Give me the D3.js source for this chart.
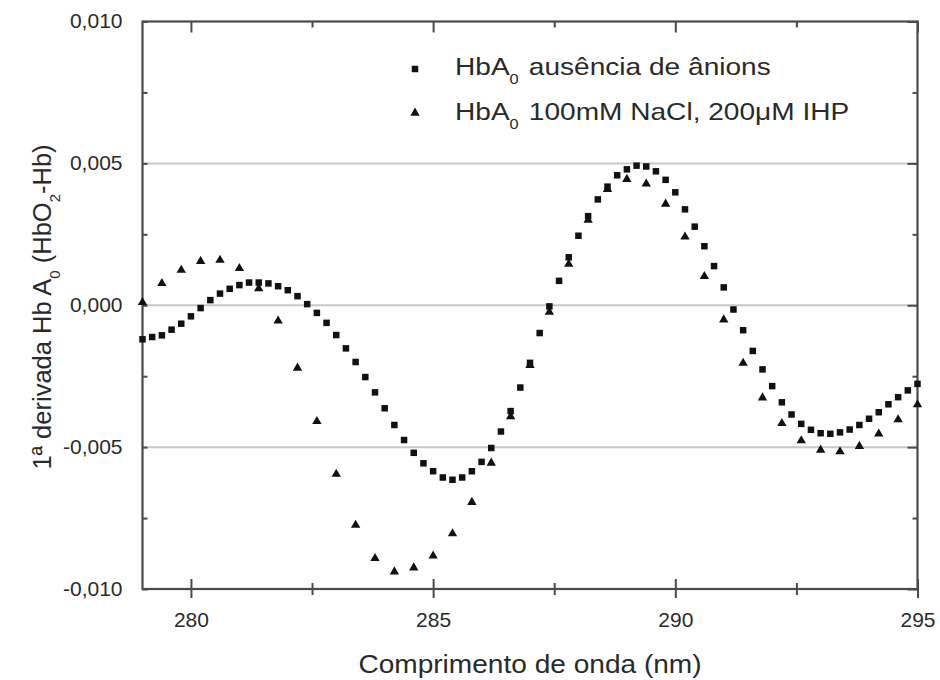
<!DOCTYPE html>
<html>
<head>
<meta charset="utf-8">
<script src="https://cdn.jsdelivr.net/npm/d3@7"></script>
<style>
  html, body { margin: 0; padding: 0; background: #fff; }
  svg { display: block; }
  text { font-family: "Liberation Sans", Arial, sans-serif; fill: #2a2a2a; }
</style>
</head>
<body>
<svg id="chart" width="940" height="680"></svg>
<script>
// Wavelengths (nm) sampled for HbA0 without anions (every 0.2 nm)
const wavelengthNoAnions = [
  279.0, 279.2, 279.4, 279.6, 279.8, 280.0, 280.2, 280.4, 280.6, 280.8,
  281.0, 281.2, 281.4, 281.6, 281.8, 282.0, 282.2, 282.4, 282.6, 282.8,
  283.0, 283.2, 283.4, 283.6, 283.8, 284.0, 284.2, 284.4, 284.6, 284.8,
  285.0, 285.2, 285.4, 285.6, 285.8, 286.0, 286.2, 286.4, 286.6, 286.8,
  287.0, 287.2, 287.4, 287.6, 287.8, 288.0, 288.2, 288.4, 288.6, 288.8,
  289.0, 289.2, 289.4, 289.6, 289.8, 290.0, 290.2, 290.4, 290.6, 290.8,
  291.0, 291.2, 291.4, 291.6, 291.8, 292.0, 292.2, 292.4, 292.6, 292.8,
  293.0, 293.2, 293.4, 293.6, 293.8, 294.0, 294.2, 294.4, 294.6, 294.8,
  295.0
];
// First derivative, HbA0 without anions
const derivNoAnions = [
  -0.00120, -0.00112, -0.00106, -0.00086, -0.00065, -0.00039, -0.00010, 0.00018, 0.00041, 0.00058,
  0.00071, 0.00080, 0.00080, 0.00077, 0.00067, 0.00053, 0.00032, 0.00004, -0.00027, -0.00062,
  -0.00105, -0.00152, -0.00200, -0.00253, -0.00307, -0.00363, -0.00422, -0.00475, -0.00520, -0.00557,
  -0.00585, -0.00607, -0.00615, -0.00607, -0.00585, -0.00552, -0.00503, -0.00445, -0.00373, -0.00290,
  -0.00203, -0.00098, -0.00004, 0.00086, 0.00169, 0.00245, 0.00314, 0.00373, 0.00418, 0.00458,
  0.00479, 0.00492, 0.00489, 0.00472, 0.00442, 0.00398, 0.00338, 0.00277, 0.00208, 0.00138,
  0.00063, -0.00015, -0.00088, -0.00161, -0.00226, -0.00285, -0.00342, -0.00385, -0.00418, -0.00439,
  -0.00451, -0.00453, -0.00448, -0.00438, -0.00422, -0.00400, -0.00377, -0.00349, -0.00324, -0.00300,
  -0.00277
];

// Wavelengths (nm) sampled for HbA0 with 100 mM NaCl + 200 uM IHP (every 0.4 nm)
const wavelengthAnions = [
  279.0, 279.4, 279.8, 280.2, 280.6, 281.0, 281.4, 281.8, 282.2, 282.6,
  283.0, 283.4, 283.8, 284.2, 284.6, 285.0, 285.4, 285.8, 286.2, 286.6,
  287.0, 287.4, 287.8, 288.2, 288.6, 289.0, 289.4, 289.8, 290.2, 290.6,
  291.0, 291.4, 291.8, 292.2, 292.6, 293.0, 293.4, 293.8, 294.2, 294.6,
  295.0
];
// First derivative, HbA0 with NaCl and IHP
const derivAnions = [
  0.00010, 0.00077, 0.00124, 0.00155, 0.00159, 0.00130, 0.00059, -0.00055, -0.00221, -0.00409,
  -0.00595, -0.00775, -0.00892, -0.00939, -0.00925, -0.00883, -0.00805, -0.00694, -0.00556, -0.00392,
  -0.00212, -0.00024, 0.00145, 0.00300, 0.00409, 0.00444, 0.00428, 0.00357, 0.00241, 0.00102,
  -0.00051, -0.00204, -0.00326, -0.00416, -0.00477, -0.00510, -0.00516, -0.00497, -0.00453, -0.00403,
  -0.00350
];

const xMajorTicks = [280, 285, 290, 295];
const xMinorTicks = [282.5, 287.5, 292.5];
const yMajorTicks = [-0.010, -0.005, 0.000, 0.005, 0.010];
const yMinorTicks = [-0.0075, -0.0025, 0.0025, 0.0075];
const yGridValues = [-0.005, 0.000, 0.005];

const svg = d3.select("#chart");
const plot = { left: 142.5, right: 917.5, top: 21.5, bottom: 589 };

const x = d3.scaleLinear().domain([279, 295]).range([plot.left, plot.right]);
const y = d3.scaleLinear().domain([-0.010, 0.010]).range([plot.bottom, plot.top]);

const fmtY = v => d3.format(".3f")(v).replace(".", ",").replace("−", "-");

// Horizontal gridlines
svg.append("g")
  .selectAll("line")
  .data(yGridValues)
  .join("line")
  .attr("x1", plot.left).attr("x2", plot.right)
  .attr("y1", d => y(d)).attr("y2", d => y(d))
  .attr("stroke", "#c8c8c8").attr("stroke-width", 2);

const frameColor = "#4a4a4a";

// Bottom axis: ticks cross the axis line
const bottomAxis = svg.append("g").attr("transform", `translate(0,${plot.bottom})`);
bottomAxis.append("g")
  .call(d3.axisBottom(x).tickValues(xMajorTicks).tickSize(9).tickPadding(14).tickFormat(d3.format("d")))
  .call(g => g.select(".domain").remove())
  .call(g => g.selectAll(".tick line").attr("y1", -10).attr("stroke", frameColor).attr("stroke-width", 2))
  .call(g => g.selectAll(".tick text").style("font-size", "21px").attr("fill", "#2a2a2a"));
bottomAxis.append("g")
  .call(d3.axisBottom(x).tickValues(xMinorTicks).tickSize(6).tickFormat(""))
  .call(g => g.select(".domain").remove())
  .call(g => g.selectAll(".tick line").attr("y1", -6).attr("stroke", frameColor).attr("stroke-width", 2));

// Top axis: inward ticks
const topAxis = svg.append("g").attr("transform", `translate(0,${plot.top})`);
topAxis.append("g")
  .call(d3.axisBottom(x).tickValues(xMajorTicks).tickSize(11).tickFormat(""))
  .call(g => g.select(".domain").remove())
  .call(g => g.selectAll(".tick line").attr("stroke", frameColor).attr("stroke-width", 2));
topAxis.append("g")
  .call(d3.axisBottom(x).tickValues(xMinorTicks).tickSize(6).tickFormat(""))
  .call(g => g.select(".domain").remove())
  .call(g => g.selectAll(".tick line").attr("stroke", frameColor).attr("stroke-width", 2));

// Left axis: ticks cross the axis line
const leftAxis = svg.append("g").attr("transform", `translate(${plot.left},0)`);
leftAxis.append("g")
  .call(d3.axisLeft(y).tickValues(yMajorTicks).tickSize(12).tickPadding(8).tickFormat(fmtY))
  .call(g => g.select(".domain").remove())
  .call(g => g.selectAll(".tick line").attr("x2", 5).attr("stroke", frameColor).attr("stroke-width", 2))
  .call(g => g.selectAll(".tick text").style("font-size", "21px").attr("fill", "#2a2a2a").attr("dy", "0.3em"));
leftAxis.append("g")
  .call(d3.axisLeft(y).tickValues(yMinorTicks).tickSize(6).tickFormat(""))
  .call(g => g.select(".domain").remove())
  .call(g => g.selectAll(".tick line").attr("x2", 5).attr("stroke", frameColor).attr("stroke-width", 2));

// Right axis: inward ticks
const rightAxis = svg.append("g").attr("transform", `translate(${plot.right},0)`);
rightAxis.append("g")
  .call(d3.axisLeft(y).tickValues(yMajorTicks).tickSize(10).tickFormat(""))
  .call(g => g.select(".domain").remove())
  .call(g => g.selectAll(".tick line").attr("stroke", frameColor).attr("stroke-width", 2));
rightAxis.append("g")
  .call(d3.axisLeft(y).tickValues(yMinorTicks).tickSize(5).tickFormat(""))
  .call(g => g.select(".domain").remove())
  .call(g => g.selectAll(".tick line").attr("stroke", frameColor).attr("stroke-width", 2));

// Plot frame
svg.append("rect")
  .attr("x", plot.left).attr("y", plot.top)
  .attr("width", plot.right - plot.left).attr("height", plot.bottom - plot.top)
  .attr("fill", "none").attr("stroke", frameColor).attr("stroke-width", 2.2);

// Data markers
const squareSize = 6.5;
svg.append("g")
  .selectAll("rect")
  .data(wavelengthNoAnions.map((w, i) => [w, derivNoAnions[i]]))
  .join("rect")
  .attr("x", d => x(d[0]) - squareSize / 2)
  .attr("y", d => y(d[1]) - squareSize / 2)
  .attr("width", squareSize).attr("height", squareSize)
  .attr("fill", "#111");

const tri = d3.symbol().type(d3.symbolTriangle).size(38);
svg.append("g")
  .selectAll("path")
  .data(wavelengthAnions.map((w, i) => [w, derivAnions[i]]))
  .join("path")
  .attr("d", tri)
  .attr("transform", d => `translate(${x(d[0])},${y(d[1])})`)
  .attr("fill", "#111");

// Legend
const legend = svg.append("g");
legend.append("rect")
  .attr("x", 415 - squareSize / 2).attr("y", 69 - squareSize / 2)
  .attr("width", squareSize).attr("height", squareSize).attr("fill", "#111");
legend.append("path")
  .attr("d", tri).attr("transform", "translate(415,113)").attr("fill", "#111");

function legendText(yPos, rest) {
  const t = legend.append("text")
    .attr("transform", `translate(455,${yPos}) scale(1.17,1)`)
    .style("font-size", "24px");
  t.append("tspan").text("HbA");
  t.append("tspan").attr("dy", 9).style("font-size", "14px").text("0");
  t.append("tspan").attr("dy", -9).attr("dx", 2).text(" " + rest);
}
legendText(75, "ausência de ânions");
legendText(120, "100mM NaCl, 200\u03BCM IHP");

// X axis title
svg.append("text")
  .attr("transform", "translate(530,673) scale(1.08,1)")
  .attr("text-anchor", "middle")
  .style("font-size", "26px")
  .text("Comprimento de onda (nm)");

// Y axis title with subscripts
const yTitle = svg.append("text")
  .attr("transform", "translate(51,307) rotate(-90)")
  .attr("text-anchor", "middle")
  .style("font-size", "25.5px");
yTitle.append("tspan").text("1ª derivada Hb A");
yTitle.append("tspan").attr("dy", 9).style("font-size", "15px").text("0");
yTitle.append("tspan").attr("dy", -9).text(" (HbO");
yTitle.append("tspan").attr("dy", 9).style("font-size", "15px").text("2");
yTitle.append("tspan").attr("dy", -9).text("-Hb)");
</script>
</body>
</html>
